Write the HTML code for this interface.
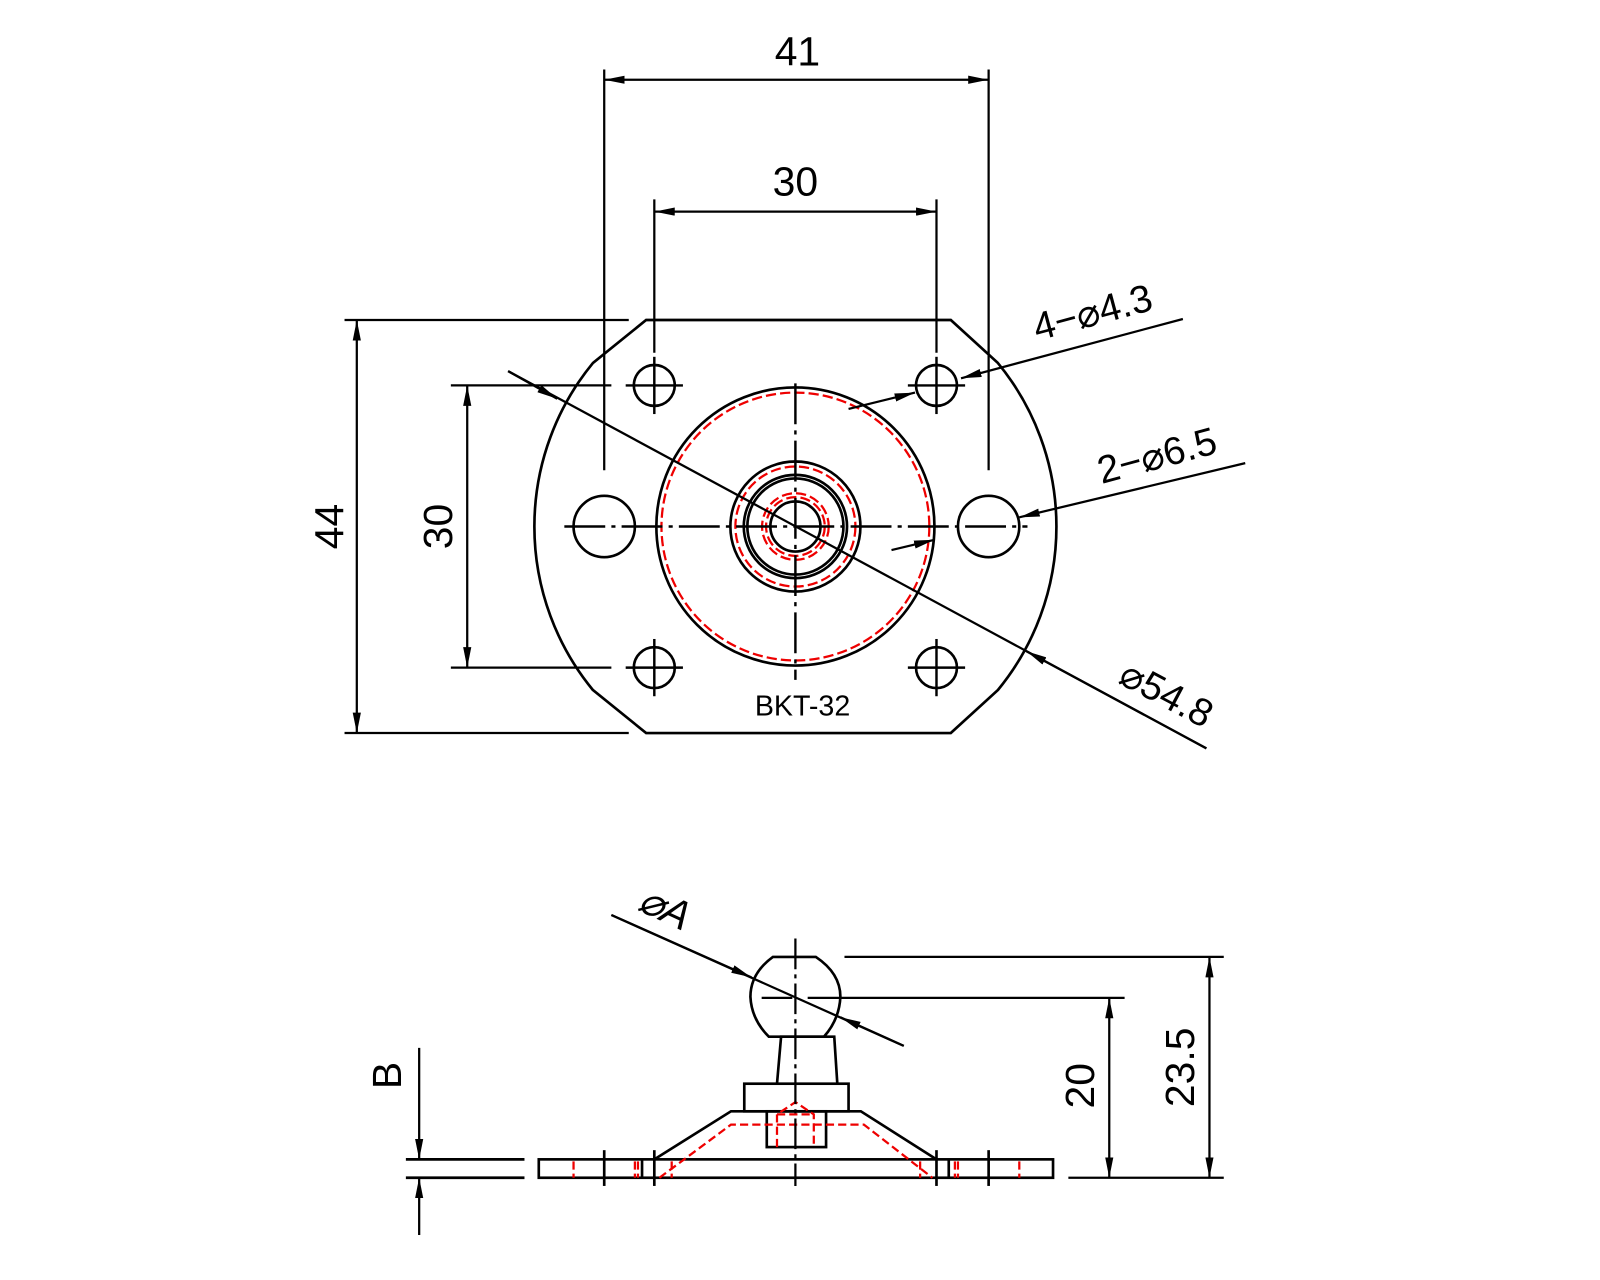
<!DOCTYPE html>
<html><head><style>html,body{margin:0;padding:0;background:#fff}svg{display:block}</style></head>
<body>
<svg width="1600" height="1280" viewBox="0 0 1565 1252" preserveAspectRatio="none" xmlns="http://www.w3.org/2000/svg">
<defs>
<marker id="a" viewBox="0 0 20 8" refX="20" refY="4" markerWidth="20" markerHeight="8" markerUnits="userSpaceOnUse" orient="auto-start-reverse"><path d="M0,0 L20,4 L0,8 Z" fill="#000"/></marker>
</defs>
<g fill="none" stroke="#000" stroke-width="2.6">
<path d="M632,313 L930,313 L976,355 A252,252 0 0 1 976,675 L930,717 L632,717 L580,675 A252,252 0 0 1 580,355 Z"/>
<circle cx="778" cy="515" r="136"/>
<circle cx="778" cy="515" r="63.6"/>
<circle cx="778" cy="515" r="50.5"/>
<circle cx="778" cy="515" r="47"/>
<circle cx="778" cy="515" r="24.5"/>
<circle cx="640" cy="377" r="20"/><circle cx="916" cy="377" r="20"/>
<circle cx="640" cy="653" r="20"/><circle cx="916" cy="653" r="20"/>
<circle cx="591" cy="515" r="30"/><circle cx="967" cy="515" r="30"/>
</g>
<g fill="none" stroke="#e00" stroke-width="2.2" stroke-dasharray="10,4">
<circle cx="778" cy="515" r="131"/>
<circle cx="778" cy="515" r="58.7"/>
<circle cx="778" cy="515" r="32.6"/>
<circle cx="778" cy="515" r="28.7"/>
</g>
<g stroke="#000" stroke-width="2.4" fill="none">
<line x1="552" y1="515" x2="1005" y2="515" stroke-dasharray="40,6,4,6"/>
<line x1="778" y1="375" x2="778" y2="665" stroke-dasharray="40,6,4,6"/>
<line x1="612" y1="377" x2="668" y2="377"/><line x1="640" y1="349" x2="640" y2="405"/>
<line x1="888" y1="377" x2="944" y2="377"/><line x1="916" y1="349" x2="916" y2="405"/>
<line x1="612" y1="653" x2="668" y2="653"/><line x1="640" y1="625" x2="640" y2="681"/>
<line x1="888" y1="653" x2="944" y2="653"/><line x1="916" y1="625" x2="916" y2="681"/>
</g>
<g stroke="#000" stroke-width="2.2" fill="none">
<line x1="591" y1="68" x2="591" y2="460"/><line x1="967" y1="68" x2="967" y2="460"/>
<line x1="591" y1="78" x2="967" y2="78" marker-start="url(#a)" marker-end="url(#a)"/>
<line x1="640" y1="195" x2="640" y2="345"/><line x1="916" y1="195" x2="916" y2="345"/>
<line x1="640" y1="207" x2="916" y2="207" marker-start="url(#a)" marker-end="url(#a)"/>
<line x1="337" y1="313" x2="615" y2="313"/><line x1="337" y1="717" x2="615" y2="717"/>
<line x1="349" y1="313" x2="349" y2="717" marker-start="url(#a)" marker-end="url(#a)"/>
<line x1="441" y1="377" x2="598" y2="377"/><line x1="441" y1="653" x2="598" y2="653"/>
<line x1="457" y1="377" x2="457" y2="653" marker-start="url(#a)" marker-end="url(#a)"/>
<line x1="497" y1="363" x2="545" y2="390" marker-end="url(#a)"/>
<line x1="497" y1="363" x2="1180" y2="732"/>
<line x1="1180" y1="732" x2="1004" y2="637" marker-end="url(#a)"/>
<line x1="1157" y1="312" x2="940" y2="370" marker-end="url(#a)"/>
<line x1="830" y1="400" x2="895" y2="384" marker-end="url(#a)"/>
<line x1="1218" y1="453" x2="997" y2="506" marker-end="url(#a)"/>
<line x1="872" y1="538" x2="914" y2="528" marker-end="url(#a)"/>
</g>
<g font-family="Liberation Sans, sans-serif" font-size="40" fill="#000" text-anchor="middle">
<text x="780" y="64">41</text>
<text x="778" y="191">30</text>
<text transform="translate(336,515) rotate(-90)">44</text>
<text transform="translate(442,515) rotate(-90)">30</text>
<text transform="translate(1072,318) rotate(-15)" font-size="38">4−⌀4.3</text>
<text transform="translate(1135,458) rotate(-15)" font-size="38">2−⌀6.5</text>
<text transform="translate(1135,690) rotate(28)" font-size="38">⌀54.8</text>
<text x="785" y="700" font-size="28">BKT-32</text>
</g>
<g fill="none" stroke="#000" stroke-width="2.6">
<rect x="527" y="1134" width="503" height="18"/>
<line x1="397" y1="1134" x2="513" y2="1134"/><line x1="397" y1="1152" x2="513" y2="1152"/>
<line x1="591" y1="1125" x2="591" y2="1160"/><line x1="640" y1="1125" x2="640" y2="1160"/>
<line x1="916" y1="1125" x2="916" y2="1160"/><line x1="967" y1="1125" x2="967" y2="1160"/>
<line x1="628" y1="1134" x2="628" y2="1152"/><line x1="928" y1="1134" x2="928" y2="1152"/>
<path d="M640,1134 L715,1087 L842,1087 L916,1134"/>
<rect x="728" y="1060" width="102" height="27"/>
<rect x="750" y="1087" width="58" height="35"/>
<path d="M760,1060 L764,1014 L816,1014 L819,1060"/>
<path d="M756,936 L798,936 Q822,952 822,975 Q821,997 806,1014 L752,1014 Q735,997 734,975 Q734,952 756,936 Z"/>
</g>
<g fill="none" stroke="#e00" stroke-width="2.2" stroke-dasharray="8,4">
<path d="M645,1152 L715,1100 L845,1100 L912,1152"/>
<path d="M760,1122 L760,1090 L778,1078 L796,1090 L796,1122"/>
<line x1="760" y1="1090" x2="796" y2="1090"/>
<line x1="561" y1="1136" x2="561" y2="1152"/><line x1="621" y1="1136" x2="621" y2="1152"/><line x1="624" y1="1136" x2="624" y2="1152"/>
<line x1="934" y1="1136" x2="934" y2="1152"/><line x1="937" y1="1136" x2="937" y2="1152"/><line x1="997" y1="1136" x2="997" y2="1152"/>
<line x1="657" y1="1136" x2="657" y2="1152"/><line x1="900" y1="1136" x2="900" y2="1152"/>
</g>
<g stroke="#000" stroke-width="2.2" fill="none">
<line x1="778" y1="918" x2="778" y2="1160" stroke-dasharray="30,5,4,5"/>
<line x1="745" y1="976" x2="775" y2="976"/>
<line x1="790" y1="976" x2="1100" y2="976"/>
<line x1="826" y1="936" x2="1197" y2="936"/>
<line x1="1045" y1="1152" x2="1197" y2="1152"/>
<line x1="1085" y1="976" x2="1085" y2="1152" marker-start="url(#a)" marker-end="url(#a)"/>
<line x1="1183" y1="936" x2="1183" y2="1152" marker-start="url(#a)" marker-end="url(#a)"/>
<line x1="598" y1="895" x2="735" y2="956" marker-end="url(#a)"/>
<line x1="598" y1="895" x2="884" y2="1023"/>
<line x1="884" y1="1023" x2="822" y2="995" marker-end="url(#a)"/>
<line x1="410" y1="1025" x2="410" y2="1134" marker-end="url(#a)"/>
<line x1="410" y1="1208" x2="410" y2="1152" marker-end="url(#a)"/>
</g>
<g font-family="Liberation Sans, sans-serif" font-size="40" fill="#000" text-anchor="middle">
<text transform="translate(1070,1062) rotate(-90)">20</text>
<text transform="translate(1168,1044) rotate(-90)">23.5</text>
<text transform="translate(392,1052) rotate(-90)">B</text>
<text transform="translate(645,900) rotate(25)" font-style="italic">⌀A</text>
</g>
</svg>
</body></html>
